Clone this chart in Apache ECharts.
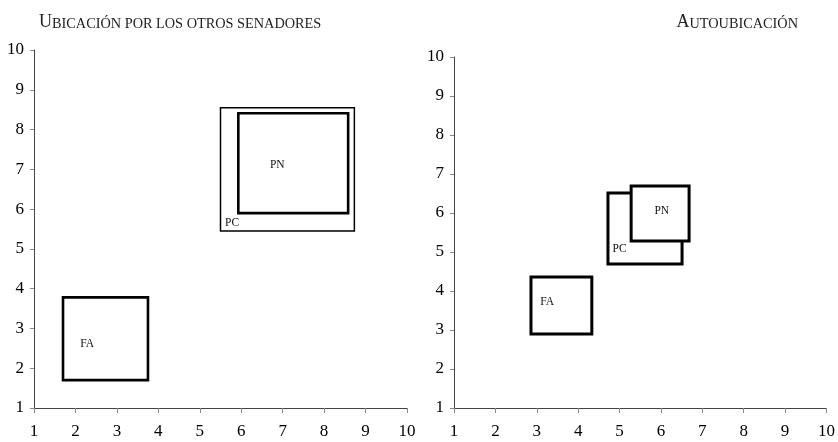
<!DOCTYPE html>
<html>
<head>
<meta charset="utf-8">
<script src="https://cdn.jsdelivr.net/npm/echarts@6/dist/echarts.min.js"></script>
<style>html,body{margin:0;padding:0;background:#fff}#c{width:838px;height:442px}</style>
</head>
<body>
<div id="c"></div>
<script>
// ---- data ----
const axisTicks = [1, 2, 3, 4, 5, 6, 7, 8, 9, 10];
const titleLeft = ['U', 'BICACIÓN POR LOS OTROS SENADORES'];
const titleRight = ['A', 'UTOUBICACIÓN'];

// Left panel: "Ubicación por los otros senadores"
const leftParties = ['PC', 'PN', 'FA'];
const leftX0 = [5.5, 5.93, 1.7];
const leftX1 = [8.73, 8.58, 3.75];
const leftY0 = [5.45, 5.9, 1.7];
const leftY1 = [8.55, 8.41, 3.78];
const leftLabelX = [5.78, 6.87, 2.28];
const leftLabelY = [5.65, 7.1, 2.6];

// Right panel: "Autoubicación"
const rightParties = ['FA', 'PC', 'PN'];
const rightX0 = [2.86, 4.72, 5.28];
const rightX1 = [4.33, 6.51, 6.68];
const rightY0 = [2.9, 4.69, 5.28];
const rightY1 = [4.36, 6.51, 6.69];
const rightLabelX = [3.25, 5.0, 6.02];
const rightLabelY = [3.72, 5.08, 6.05];

// ---- styles (not data) ----
const leftLineW = { PC: 1.5, PN: 2.6, FA: 2.6 };
const rightLineW = { FA: 3, PC: 3, PN: 3 };

function rows(x0, x1, y0, y1, lx, ly) {
  return x0.map((v, i) => [x0[i], x1[i], y0[i], y1[i], lx[i], ly[i]]);
}

function makeRender(names, lineW) {
  return function (params, api) {
    const tl = api.coord([api.value(0), api.value(3)]);
    const br = api.coord([api.value(1), api.value(2)]);
    const lp = api.coord([api.value(4), api.value(5)]);
    const name = names[params.dataIndex];
    return {
      type: 'group',
      children: [
        {
          type: 'rect',
          shape: { x: tl[0], y: tl[1], width: br[0] - tl[0], height: br[1] - tl[1] },
          style: { fill: '#fff', stroke: '#000', lineWidth: lineW[name] }
        },
        {
          type: 'text',
          x: lp[0], y: lp[1],
          style: {
            text: name, fill: '#111', align: 'center', verticalAlign: 'middle',
            fontSize: 11.5, fontFamily: 'Liberation Serif'
          }
        }
      ]
    };
  };
}

const axisFont = { fontFamily: 'Liberation Serif', fontSize: 17, color: '#000' };

function xAxis(gi) {
  return {
    type: 'value', gridIndex: gi, min: axisTicks[0], max: axisTicks[axisTicks.length - 1], interval: 1,
    splitLine: { show: false },
    axisLine: { lineStyle: { color: '#444', width: 1 } },
    axisTick: { show: true, length: 5, lineStyle: { color: '#888' } },
    axisLabel: Object.assign({ margin: 15 }, axisFont)
  };
}
function yAxis(gi) {
  return {
    type: 'value', gridIndex: gi, min: axisTicks[0], max: axisTicks[axisTicks.length - 1], interval: 1,
    splitLine: { show: false },
    axisLine: { show: true, lineStyle: { color: '#444', width: 1 } },
    axisTick: { show: true, length: 4, lineStyle: { color: '#888' } },
    axisLabel: Object.assign({ margin: 10 }, axisFont)
  };
}

const titleRich = {
  a: { fontFamily: 'Liberation Serif', fontWeight: 'normal', fontSize: 18, color: '#222', verticalAlign: 'bottom', lineHeight: 21 },
  b: { fontFamily: 'Liberation Serif', fontWeight: 'normal', fontSize: 14.3, color: '#222', verticalAlign: 'bottom', lineHeight: 21 }
};

const chart = echarts.init(document.getElementById('c'), null, { renderer: 'canvas' });
chart.setOption({
  backgroundColor: '#fff',
  animation: false,
  title: [
    { text: '{a|' + titleLeft[0] + '}{b|' + titleLeft[1] + '}', left: 34, top: 5, textStyle: { fontWeight: 'normal', rich: titleRich } },
    { text: '{a|' + titleRight[0] + '}{b|' + titleRight[1] + '}', right: 35, top: 5, textStyle: { fontWeight: 'normal', rich: titleRich } }
  ],
  grid: [
    { left: 34, right: 431, top: 50, bottom: 34 },
    { left: 454, right: 11, top: 57, bottom: 34 }
  ],
  xAxis: [xAxis(0), xAxis(1)],
  yAxis: [yAxis(0), yAxis(1)],
  series: [
    {
      type: 'custom', coordinateSystem: 'cartesian2d', xAxisIndex: 0, yAxisIndex: 0, clip: false,
      encode: { x: [0, 1], y: [2, 3] },
      renderItem: makeRender(leftParties, leftLineW),
      data: rows(leftX0, leftX1, leftY0, leftY1, leftLabelX, leftLabelY)
    },
    {
      type: 'custom', coordinateSystem: 'cartesian2d', xAxisIndex: 1, yAxisIndex: 1, clip: false,
      encode: { x: [0, 1], y: [2, 3] },
      renderItem: makeRender(rightParties, rightLineW),
      data: rows(rightX0, rightX1, rightY0, rightY1, rightLabelX, rightLabelY)
    }
  ]
});
</script>
</body>
</html>
